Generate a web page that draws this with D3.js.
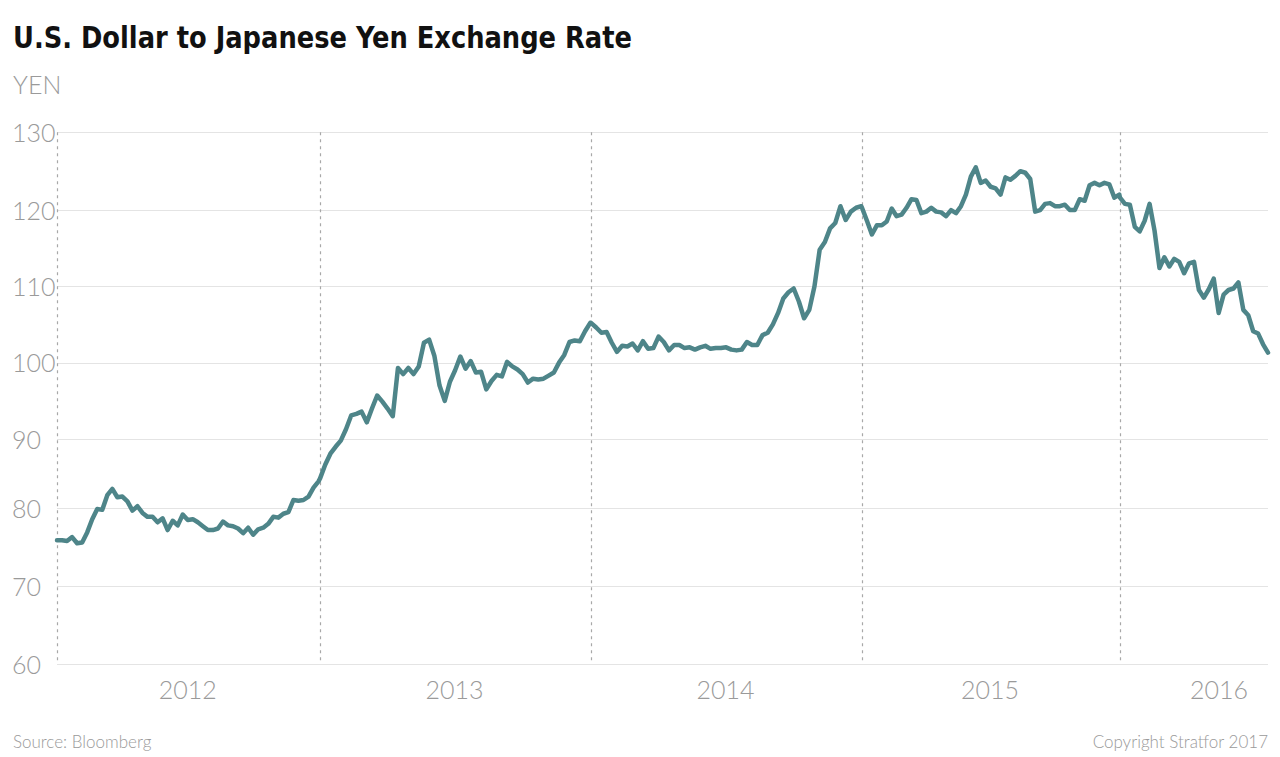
<!DOCTYPE html>
<html>
<head>
<meta charset="utf-8">
<script src="https://cdn.jsdelivr.net/npm/d3@7"></script>
<style>
  html, body { margin: 0; padding: 0; background: #fff; }
  svg { display: block; }
  .light { font-family: Lato, "Open Sans", sans-serif; font-weight: 300; fill: #9a9a9a; }
</style>
</head>
<body>
<svg id="chart" width="1280" height="757"></svg>
<script>
// Weekly USD/JPY closes (one array per year, week 0 = Jan 1)
const years = ["2012", "2013", "2014", "2015", "2016"];
const yTicks = [60, 70, 80, 90, 100, 110, 120, 130];

const rates2012 = [75.9, 75.9, 75.8, 76.3, 75.5, 75.6, 76.9, 78.6, 79.9, 79.8, 81.9, 82.8, 81.6, 81.7, 81.0,
  79.7, 80.3, 79.4, 78.9, 78.9, 78.2, 78.7, 77.2, 78.4, 77.8, 79.2, 78.5, 78.6, 78.2, 77.7, 77.2, 77.2, 77.4,
  78.3, 77.8, 77.7, 77.4, 76.8, 77.5, 76.6, 77.3, 77.5, 78.0, 78.9, 78.8, 79.3, 79.5, 81.2, 81.1, 81.2, 81.7,
  83.0, 83.9];
const rates2013 = [84.3, 86.3, 87.9, 88.9, 89.8, 91.3, 93.1, 93.3, 93.6, 92.2, 94.0, 95.7, 94.9, 94.0, 93.0,
  99.3, 98.5, 99.3, 98.5, 99.5, 102.6, 103.0, 100.9, 97.0, 95.0, 97.5, 99.0, 100.8, 99.2, 100.2, 98.7, 98.8,
  96.5, 97.6, 98.4, 98.2, 100.1, 99.5, 99.1, 98.5, 97.4, 97.9, 97.8, 97.9, 98.3, 98.7, 100.0, 101.0, 102.7,
  102.9, 102.8, 104.1, 105.2];
const rates2014 = [105.2, 104.6, 103.9, 104.0, 102.6, 101.4, 102.2, 102.1, 102.5, 101.6, 102.8, 101.8, 101.9,
  103.4, 102.7, 101.6, 102.3, 102.3, 101.9, 102.0, 101.7, 102.0, 102.2, 101.8, 101.9, 101.9, 102.0, 101.7,
  101.6, 101.7, 102.7, 102.3, 102.3, 103.6, 103.9, 105.0, 106.5, 108.4, 109.2, 109.7, 108.0, 105.8, 106.9,
  110.0, 114.8, 115.8, 117.6, 118.3, 120.5, 118.7, 119.8, 120.3, 120.5];
const rates2015 = [120.3, 118.6, 116.8, 118.0, 118.0, 118.5, 120.2, 119.2, 119.4, 120.3, 121.4, 121.3, 119.6,
  119.8, 120.3, 119.8, 119.7, 119.2, 120.0, 119.6, 120.5, 122.0, 124.3, 125.5, 123.5, 123.8, 123.0, 122.8,
  122.0, 124.2, 123.9, 124.4, 125.0, 124.8, 124.0, 119.8, 120.0, 120.8, 120.9, 120.5, 120.5, 120.7, 120.0,
  120.0, 121.4, 121.2, 123.2, 123.5, 123.2, 123.5, 123.3, 121.6, 122.0];
const rates2016 = [121.6, 120.8, 120.7, 117.8, 117.2, 118.6, 120.8, 117.3, 112.4, 113.8, 112.6, 113.6, 113.2,
  111.7, 113.0, 113.2, 109.5, 108.5, 109.6, 111.0, 106.5, 108.9, 109.5, 109.7, 110.5, 106.9, 106.2, 104.1,
  103.8, 102.4, 101.3];

const ratesByYear = [rates2012, rates2013, rates2014, rates2015, rates2016];
const lastDate = new Date(2016, 6, 29);

const series = [];
ratesByYear.forEach((rates, k) => {
  const yr = +years[k];
  rates.forEach((v, i) => series.push({ date: new Date(yr, 0, 1 + 7 * i), value: v }));
});

const svg = d3.select("#chart");
const left = 57, right = 1268;

// year boundaries in the reference are not evenly spaced, so the scale is piecewise
const x = d3.scaleTime()
  .domain([...years.map(y => new Date(+y, 0, 1)), lastDate])
  .range([left, 320, 591, 862, 1120, right]);

// gridlines in the reference are not evenly spaced either
const y = d3.scaleLinear()
  .domain(yTicks)
  .range([664, 586, 508.3, 439.2, 362.6, 286.2, 210.1, 132.3]);

// title and unit
svg.append("text")
  .attr("x", 13)
  .attr("y", 47.5)
  .attr("font-family", "'Liberation Sans Narrow', 'DejaVu Sans Condensed', sans-serif")
  .attr("font-weight", "bold")
  .attr("font-size", 31)
  .attr("fill", "#111")
  .attr("textLength", 619)
  .attr("lengthAdjust", "spacingAndGlyphs")
  .text("U.S. Dollar to Japanese Yen Exchange Rate");

svg.append("text")
  .attr("class", "light")
  .attr("x", 13)
  .attr("y", 94)
  .attr("font-size", 25)
  .text("YEN");

// horizontal gridlines + y labels
const yAxis = svg.append("g").attr("class", "y-axis");
yAxis.selectAll("line")
  .data(yTicks)
  .enter().append("line")
  .attr("x1", left)
  .attr("x2", right)
  .attr("y1", d => Math.round(y(d)) + 0.5)
  .attr("y2", d => Math.round(y(d)) + 0.5)
  .attr("stroke", "#e4e4e4")
  .attr("stroke-width", 1);

yAxis.selectAll("text")
  .data(yTicks)
  .enter().append("text")
  .attr("class", "light")
  .attr("x", 12)
  .attr("y", d => y(d) + 9.5)
  .attr("font-size", 25)
  .text(d => d);

// dashed year separators
svg.append("g")
  .selectAll("line")
  .data(years.map(yr => new Date(+yr, 0, 1)))
  .enter().append("line")
  .attr("x1", d => Math.round(x(d)) + 0.5)
  .attr("x2", d => Math.round(x(d)) + 0.5)
  .attr("y1", y(130))
  .attr("y2", y(60))
  .attr("stroke", "#a8a8a8")
  .attr("stroke-width", 1.2)
  .attr("stroke-dasharray", "3,4");

// year labels, centered on mid-year, last one kept inside the plot
const yearLabels = svg.append("g")
  .selectAll("text")
  .data(years)
  .enter().append("text")
  .attr("class", "light")
  .attr("font-size", 25)
  .attr("text-anchor", "middle")
  .attr("y", 699)
  .text(d => d)
  .attr("x", d => x(new Date(+d, 6, 1)));

yearLabels.each(function(d) {
  const w = this.getComputedTextLength();
  const cx = +d3.select(this).attr("x");
  if (cx + w / 2 > right - 20) d3.select(this).attr("x", right - 20 - w / 2);
});

// the rate line
const line = d3.line()
  .x(d => x(d.date))
  .y(d => y(d.value));

svg.append("path")
  .datum(series)
  .attr("d", line)
  .attr("fill", "none")
  .attr("stroke", "#4e8589")
  .attr("stroke-width", 4.5)
  .attr("stroke-linejoin", "round")
  .attr("stroke-linecap", "round");

// footer
svg.append("text")
  .attr("class", "light")
  .attr("x", 13)
  .attr("y", 748)
  .attr("font-size", 17)
  .attr("fill", "#a3a3a3")
  .text("Source: Bloomberg");

svg.append("text")
  .attr("class", "light")
  .attr("x", 1268)
  .attr("y", 748)
  .attr("font-size", 17)
  .attr("text-anchor", "end")
  .text("Copyright Stratfor 2017");
</script>
</body>
</html>
